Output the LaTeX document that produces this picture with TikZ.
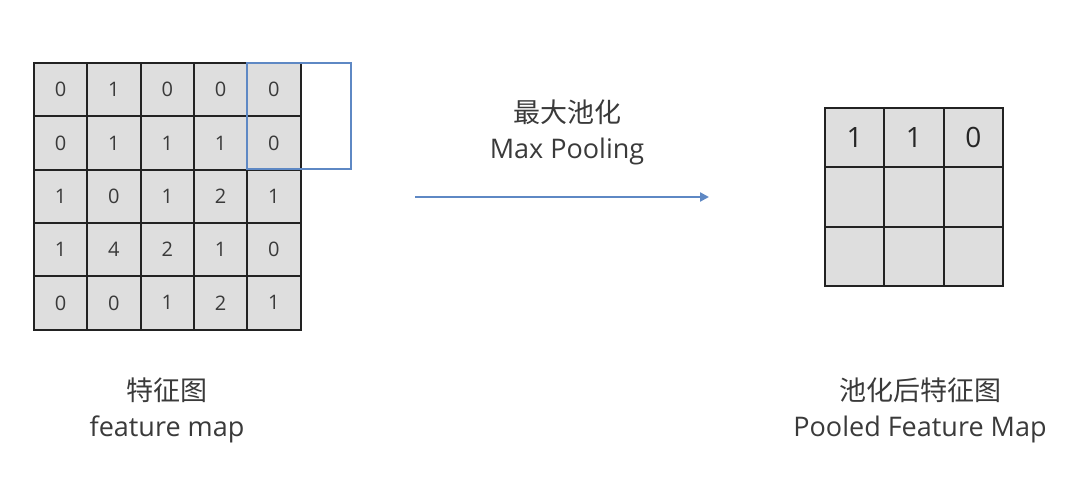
\documentclass[tikz,border=0pt]{standalone}
\usepackage{fontspec}
\setmainfont{Open Sans}
\newfontfamily\cjk{Noto Sans CJK SC}
\usetikzlibrary{arrows.meta}
\definecolor{cellfill}{HTML}{DEDEDE}
\definecolor{gridline}{HTML}{222222}
\definecolor{poolblue}{HTML}{5E88C4}
\definecolor{txt}{HTML}{3A3A3A}
\begin{document}
\begin{tikzpicture}[x=1pt,y=-1pt,
  lcell/.style={draw=gridline,line width=2pt,fill=cellfill,minimum size=53.3pt,inner sep=0pt,font=\fontsize{20}{20}\selectfont,text=txt},
  rcell/.style={draw=gridline,line width=2pt,fill=cellfill,minimum size=59.3pt,inner sep=0pt},
  rnum/.style={font=\fontsize{28}{28}\selectfont,text=black!85,inner sep=0pt},
  lbl/.style={align=center,text=txt,font=\fontsize{27}{36}\selectfont,inner sep=0pt},
  poolbox/.style={draw=poolblue,line width=2.8pt,inner sep=0pt}]
\useasboundingbox (0,0) rectangle (1067,481);
% left feature map
\foreach \row/\vals [count=\r from 0] in {0/{0,1,0,0,0},1/{0,1,1,1,0},2/{1,0,1,2,1},3/{1,4,2,1,0},4/{0,0,1,2,1}}{
  \foreach \v [count=\c from 0] in \vals{
    \node[lcell] (L-\r-\c) at ({34+26.65+53.3*\c},{63+26.65+53.3*\r}) {\v};
  }
}
% pooling window
\node[poolbox,minimum width=104pt,minimum height=106pt] (win) at (299,116) {};
% right pooled map
\foreach \r in {0,1,2}{
  \foreach \c in {0,1,2}{
    \node[rcell] (R-\r-\c) at ({825+29.65+59.3*\c},{108+29.65+59.3*\r}) {};
  }
}
\node[rnum] at (R-0-0) {1};
\node[rnum] at (R-0-1) {1};
\node[rnum] at (R-0-2) {0};
% arrow
\coordinate (a1) at (415,197);
\coordinate (a2) at (709,197);
\draw[poolblue,line width=2.8pt,-{Triangle[length=9pt,width=9pt]}] (a1) -- (a2);
% labels
\node[lbl] (tmax) at (567,132) {{\cjk 最大池化}\\Max Pooling};
\node[lbl] (tfm) at (167,410) {{\cjk 特征图}\\feature map};
\node[lbl] (tpm) at (920,410) {{\cjk 池化后特征图}\\Pooled Feature Map};
\end{tikzpicture}
\end{document}
